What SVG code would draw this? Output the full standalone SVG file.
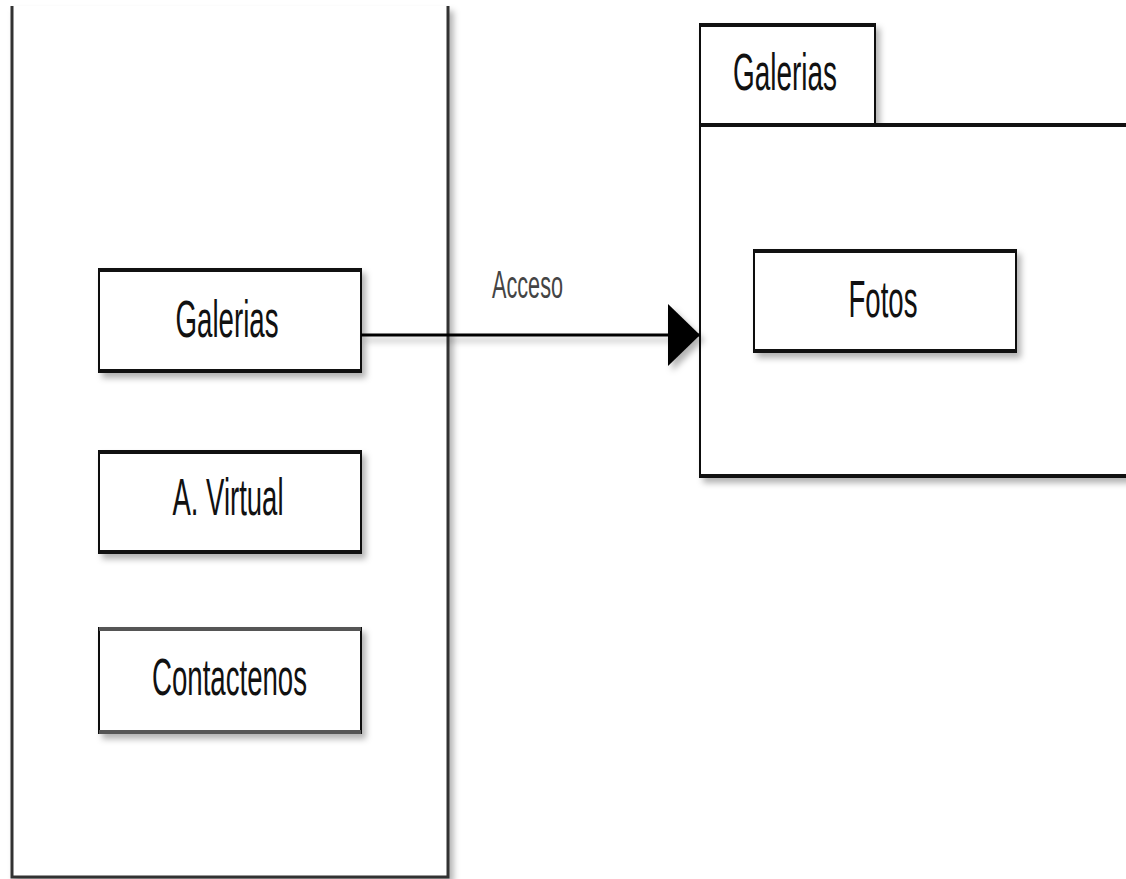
<svg xmlns="http://www.w3.org/2000/svg" width="1126" height="879" viewBox="0 0 1126 879">
  <defs>
    <filter id="sh" x="-10%" y="-10%" width="130%" height="140%">
      <feDropShadow dx="4" dy="5" stdDeviation="3" flood-color="#000" flood-opacity="0.3"/>
    </filter>
    <filter id="shu" filterUnits="userSpaceOnUse" x="0" y="0" width="1126" height="879">
      <feDropShadow dx="4" dy="5" stdDeviation="3" flood-color="#000" flood-opacity="0.3"/>
    </filter>
    <marker id="arrow" markerUnits="userSpaceOnUse" markerWidth="34" markerHeight="64" refX="32" refY="31" orient="auto">
      <polygon points="0,0 32,31 0,62" fill="#000"/>
    </marker>
  </defs>
  <style>
    .box { fill: #fff; stroke: #111; stroke-width: 2; }
    .hedge { stroke: #111; stroke-width: 4; fill: none; }
    .lbl { font-family: "Liberation Sans", Arial, sans-serif; font-size: 52px; fill: #111; text-anchor: middle; }
    .conn { stroke: #000; stroke-width: 3; fill: none; }
    .clabel { font-family: "Liberation Sans", Arial, sans-serif; font-size: 39px; fill: #444; text-anchor: middle; }
  </style>
  <rect width="1126" height="879" fill="#fff"/>

  <g id="container">
    <path d="M12,6 V877 H448 V6" fill="#fff" stroke="#333" stroke-width="3" filter="url(#shu)"/>
  </g>

  <g id="galerias-pkg">
    <g filter="url(#sh)">
      <rect class="box" x="700" y="24" width="175" height="101"/>
      <rect class="box" x="700" y="125" width="440" height="352"/>
    </g>
    <line class="hedge" x1="700" y1="25" x2="875" y2="25"/>
    <line class="hedge" x1="700" y1="125" x2="1126" y2="125"/>
    <line class="hedge" x1="700" y1="476" x2="1126" y2="476"/>
    <text class="lbl" x="785" y="90" textLength="104" lengthAdjust="spacingAndGlyphs">Galerias</text>
  </g>

  <g id="fotos">
    <rect class="box" x="754" y="250" width="262" height="102" filter="url(#sh)"/>
    <line class="hedge" x1="754" y1="251" x2="1016" y2="251"/>
    <line class="hedge" x1="754" y1="351" x2="1016" y2="351"/>
    <text class="lbl" x="883" y="317" textLength="69" lengthAdjust="spacingAndGlyphs">Fotos</text>
  </g>

  <g id="galerias">
    <rect class="box" x="99" y="269" width="262" height="103" filter="url(#sh)"/>
    <line class="hedge" x1="99" y1="270" x2="361" y2="270" stroke="#333"/>
    <line class="hedge" x1="99" y1="371" x2="361" y2="371"/>
    <text class="lbl" x="227" y="337" textLength="103" lengthAdjust="spacingAndGlyphs">Galerias</text>
  </g>

  <g id="a-virtual">
    <rect class="box" x="99" y="451" width="262" height="102" filter="url(#sh)"/>
    <line class="hedge" x1="99" y1="452" x2="361" y2="452"/>
    <line class="hedge" x1="99" y1="552" x2="361" y2="552"/>
    <text class="lbl" x="228" y="515" textLength="111" lengthAdjust="spacingAndGlyphs">A. Virtual</text>
  </g>

  <g id="contactenos">
    <rect class="box" x="99" y="628" width="262" height="105" filter="url(#sh)"/>
    <line class="hedge" x1="99" y1="629" x2="361" y2="629" style="stroke:#555"/>
    <line class="hedge" x1="99" y1="732" x2="361" y2="732" style="stroke:#555"/>
    <text class="lbl" x="229.5" y="695" textLength="155" lengthAdjust="spacingAndGlyphs">Contactenos</text>
  </g>

  <g id="connectors">
    <line class="conn" x1="361" y1="335" x2="700" y2="335" marker-end="url(#arrow)" filter="url(#shu)"/>
    <text class="clabel" x="527.5" y="298" textLength="71" lengthAdjust="spacingAndGlyphs">Acceso</text>
  </g>
</svg>
